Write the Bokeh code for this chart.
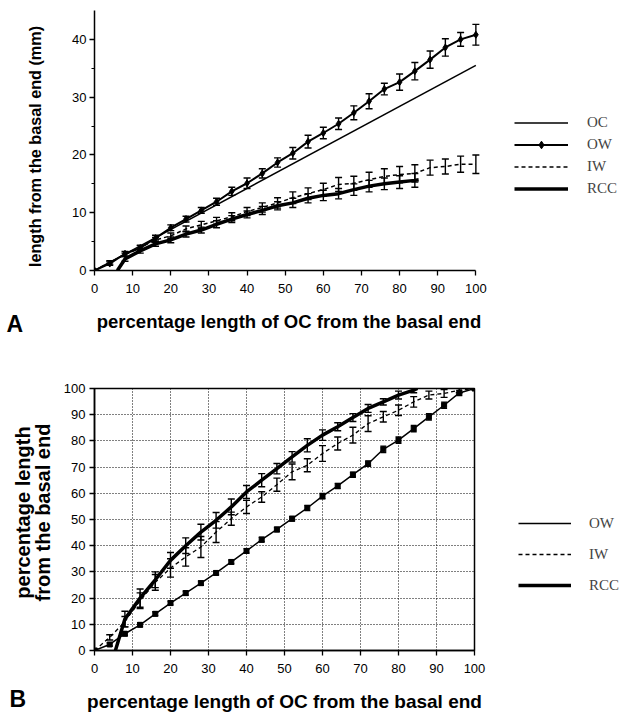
import math
from bokeh.plotting import figure
from bokeh.models import (Range1d, FixedTicker, Whisker, TeeHead, ColumnDataSource,
                          Legend, LegendItem)
from bokeh.layouts import column, row
from bokeh.core.properties import value
from bokeh.embed import file_html
from bokeh.resources import INLINE

# ---------------- data ----------------
pct = [0, 4, 8, 12, 16, 20, 24, 28, 32, 36, 40, 44, 48, 52, 56, 60, 64, 68, 72, 76, 80, 84, 88, 92, 96, 100]

# Panel A: length from the basal end (mm)
oc_x = [0, 100]
oc_a = [0, 35.5]
ow_a = [0, 1.2, 2.9, 3.9, 5.6, 7.4, 8.9, 10.4, 11.9, 13.7, 15.1, 16.8, 18.7, 20.3, 22.3, 23.8, 25.4, 27.3, 29.3, 31.4, 32.6, 34.5, 36.5, 38.6, 40.0, 40.8]
ow_a_err = [0, 0.3, 0.4, 0.4, 0.5, 0.5, 0.5, 0.5, 0.6, 0.7, 0.9, 0.8, 0.8, 1.0, 1.1, 1.0, 1.0, 1.2, 1.3, 1.0, 1.4, 1.5, 1.5, 1.5, 1.2, 1.8]
iw_a = [0, 1.4, 2.7, 4.0, 5.3, 6.0, 7.2, 7.9, 8.6, 9.3, 10.2, 10.9, 11.7, 12.6, 13.3, 14.0, 14.9, 15.1, 15.7, 16.3, 16.6, 16.8, 17.8, 18.0, 18.4, 18.4]
iw_a_err = [0, 0.3, 0.3, 0.4, 0.4, 0.5, 0.5, 0.6, 0.6, 0.7, 0.7, 0.8, 0.9, 1.0, 1.0, 1.1, 1.2, 1.2, 1.3, 1.3, 1.4, 1.5, 1.3, 1.3, 1.4, 1.6]
rcc_a_x = [6, 8, 12, 16, 20, 24, 28, 32, 36, 40, 44, 48, 52, 56, 60, 64, 68, 72, 76, 80, 84, 85]
rcc_a = [0, 2.0, 3.4, 4.6, 5.3, 6.3, 7.0, 8.0, 8.9, 9.7, 10.4, 11.2, 11.7, 12.5, 13.0, 13.3, 14.0, 14.6, 15.0, 15.3, 15.6, 15.7]
rcc_a_err = [0, 0.4, 0.4, 0.4, 0.5, 0.5, 0.5, 0.6, 0.6, 0.6, 0.7, 0.7, 0.8, 0.8, 0.9, 0.9, 1.0, 1.0, 1.0, 1.1, 1.2, 0]

# Panel B: percentage length from the basal end
ow_b = [0, 2.3, 6.4, 9.8, 14.0, 18.1, 21.9, 25.7, 29.6, 33.8, 38.0, 42.3, 46.2, 50.3, 54.4, 58.9, 62.8, 67.1, 71.3, 76.8, 80.3, 84.7, 89.2, 93.6, 98.3, 100]
ow_b_err = [0, 0.6, 0.8, 0.8, 0.8, 0.8, 0.8, 0.8, 0.8, 0.8, 0.9, 0.9, 0.9, 0.9, 1.0, 1.0, 1.0, 1.0, 1.0, 1.2, 1.2, 1.2, 1.2, 1.2, 1.0, 0]
iw_b = [0, 5.0, 11.0, 19.0, 26.0, 31.5, 35.7, 39.5, 45.2, 50.3, 54.8, 58.6, 63.3, 68.2, 70.7, 75.2, 79.0, 82.2, 86.6, 89.2, 91.7, 94.9, 97.5, 98.1, 99.4, 100]
iw_b_err = [0, 1.0, 2.0, 3.0, 3.0, 3.5, 3.5, 4.0, 4.0, 2.5, 2.5, 2.0, 2.5, 3.0, 2.5, 3.0, 2.5, 3.0, 3.0, 2.0, 2.0, 2.0, 1.5, 1.5, 1.0, 0]
rcc_b_x = [5.5, 8, 12, 16, 20, 24, 28, 32, 36, 40, 44, 48, 52, 56, 60, 64, 68, 72, 76, 80, 84, 85]
rcc_b = [0, 12.0, 20.0, 27.0, 34.4, 40.0, 45.2, 49.7, 54.8, 60.5, 65.0, 69.4, 73.9, 78.3, 82.2, 85.4, 88.9, 92.4, 94.9, 97.5, 99.4, 100]
rcc_b_err = [0, 3.0, 3.5, 3.0, 3.0, 3.0, 3.0, 3.0, 3.0, 2.5, 2.5, 2.0, 2.0, 2.5, 2.0, 1.5, 1.5, 1.5, 1.2, 1.5, 1.0, 0]

x_ticks = [0, 10, 20, 30, 40, 50, 60, 70, 80, 90, 100]
a_y_ticks = [0, 10, 20, 30, 40]
a_y_minor = [5, 15, 25, 35]
b_y_ticks = [0, 10, 20, 30, 40, 50, 60, 70, 80, 90, 100]
x_title = "percentage length of OC from the basal end"
a_y_title = "length from the basal end (mm)"
b_y_title = ["percentage length", "from the basal end"]
panel_tags = ["A", "B"]

SANS = "Liberation Sans"
SERIF = "Liberation Serif"


def add_err(p, xs, ys, es, lw=1.4, size=7):
    pts = [(x, y, e) for x, y, e in zip(xs, ys, es) if e > 0]
    src = ColumnDataSource(dict(x=[a for a, _, _ in pts],
                                lo=[b - c for _, b, c in pts],
                                hi=[b + c for _, b, c in pts]))
    w = Whisker(base="x", upper="hi", lower="lo", source=src,
                line_width=lw, line_color="black",
                upper_head=TeeHead(size=size, line_width=lw, line_color="black"),
                lower_head=TeeHead(size=size, line_width=lw, line_color="black"))
    p.add_layout(w)


def style_axes(p):
    for ax in (p.xaxis[0], p.yaxis[0]):
        ax.axis_line_width = 1.5
        ax.axis_line_color = "black"
        ax.major_tick_line_color = "black"
        ax.major_tick_line_width = 1.3
        ax.minor_tick_line_color = "black"
        ax.major_tick_in = 0
        ax.major_tick_out = 5
        ax.minor_tick_in = 0
        ax.minor_tick_out = 3
        ax.major_label_text_font = SANS
        ax.major_label_text_font_size = "13px"
        ax.major_label_text_color = "black"
        ax.axis_label_text_font = SANS
        ax.axis_label_text_font_style = "bold"
        ax.axis_label_text_color = "black"
    p.xaxis.major_label_standoff = 8
    p.yaxis.major_label_standoff = 4


# ---------------- left strip with the panel tags and y titles ----------------
strip = figure(width=60, height=714, x_range=Range1d(0, 60), y_range=Range1d(0, 714),
               output_backend="svg", toolbar_location=None, min_border=0,
               x_axis_location=None, y_axis_location=None)
strip.xgrid.visible = False
strip.ygrid.visible = False
strip.outline_line_color = None
strip.text(x=[34.5], y=[568], text=[a_y_title], angle=math.pi / 2,
           text_align="center", text_baseline="middle", text_color="black",
           text_font=value(SANS), text_font_style="bold", text_font_size="16.2px")
strip.text(x=[22, 42], y=[202, 202], text=b_y_title, angle=math.pi / 2,
           text_align="center", text_baseline="middle", text_color="black",
           text_font=value(SANS), text_font_style="bold", text_font_size="20px")
strip.text(x=[6, 9], y=[391, 16], text=panel_tags, text_align="left",
           text_baseline="middle", text_color="black",
           text_font=value(SANS), text_font_style="bold", text_font_size="23px")

# ---------------- Panel A ----------------
pa = figure(frame_width=389, frame_height=260, x_range=Range1d(0, 102), y_range=Range1d(0, 45),
            output_backend="svg", toolbar_location=None,
            min_border_left=29, min_border_right=138, min_border_top=10, min_border_bottom=70)
pa.xgrid.visible = False
pa.ygrid.visible = False
pa.outline_line_color = None
style_axes(pa)
pa.yaxis.major_label_standoff = 3
pa.xaxis.ticker = FixedTicker(ticks=x_ticks, minor_ticks=[])
pa.xaxis.bounds = (0, 100)
pa.yaxis.ticker = FixedTicker(ticks=a_y_ticks, minor_ticks=a_y_minor)
pa.yaxis.bounds = (0, 45)
pa.xaxis.axis_label = x_title
pa.xaxis.axis_label_text_font_size = "18.5px"
pa.xaxis.axis_label_standoff = 15

r_oc = pa.line(oc_x, oc_a, line_color="black", line_width=1.5)
r_ow = pa.line(pct, ow_a, line_color="black", line_width=2)
r_ows = pa.scatter(pct, ow_a, marker="diamond", size=7, color="black")
add_err(pa, pct, ow_a, ow_a_err)
r_iw = pa.line(pct, iw_a, line_color="black", line_width=1.5, line_dash="4 3")
add_err(pa, pct, iw_a, iw_a_err)
r_rcc = pa.line(rcc_a_x, rcc_a, line_color="black", line_width=3.5)
add_err(pa, rcc_a_x, rcc_a, rcc_a_err)

leg_a = Legend(items=[LegendItem(label="OC", renderers=[r_oc]),
                      LegendItem(label="OW", renderers=[r_ow, r_ows]),
                      LegendItem(label="IW", renderers=[r_iw]),
                      LegendItem(label="RCC", renderers=[r_rcc])],
               location=(31, 72), glyph_width=54, glyph_height=19, label_height=19,
               spacing=3, label_standoff=19, padding=10, margin=0,
               border_line_color=None, background_fill_alpha=0,
               label_text_font=SERIF, label_text_font_size="15px")
pa.add_layout(leg_a, "right")

# ---------------- Panel B ----------------
pb = figure(frame_width=380, frame_height=262, x_range=Range1d(0, 100), y_range=Range1d(0, 100),
            output_backend="svg", toolbar_location=None,
            min_border_left=34, min_border_right=142, min_border_top=48, min_border_bottom=64)
style_axes(pb)
pb.xaxis.ticker = FixedTicker(ticks=x_ticks, minor_ticks=[])
pb.yaxis.ticker = FixedTicker(ticks=b_y_ticks, minor_ticks=[])
pb.xgrid.grid_line_color = "black"
pb.ygrid.grid_line_color = "black"
pb.xgrid.grid_line_dash = "1 2"
pb.ygrid.grid_line_dash = "1 2"
pb.xgrid.grid_line_width = 1
pb.ygrid.grid_line_width = 1
pb.outline_line_color = "black"
pb.outline_line_width = 1.5
pb.xaxis.axis_label = x_title
pb.xaxis.axis_label_text_font_size = "19px"
pb.xaxis.axis_label_standoff = 15

r_owb = pb.line(pct, ow_b, line_color="black", line_width=1.5)
pb.scatter(pct, ow_b, marker="square", size=5, color="black")
add_err(pb, pct, ow_b, ow_b_err, size=6)
r_owb_leg = pb.scatter([], [], marker="diamond", size=7, color="black")
r_iwb = pb.line(pct, iw_b, line_color="black", line_width=1.3, line_dash="4 3")
add_err(pb, pct, iw_b, iw_b_err)
r_rccb = pb.line(rcc_b_x, rcc_b, line_color="black", line_width=3.5)
add_err(pb, rcc_b_x, rcc_b, rcc_b_err)

leg_b = Legend(items=[LegendItem(label="OW", renderers=[r_owb, r_owb_leg]),
                      LegendItem(label="IW", renderers=[r_iwb]),
                      LegendItem(label="RCC", renderers=[r_rccb])],
               location=(44, 55), glyph_width=53, glyph_height=20, label_height=20,
               spacing=11, label_standoff=18, padding=10, margin=0,
               border_line_color=None, background_fill_alpha=0,
               label_text_font=SERIF, label_text_font_size="15px")
pb.add_layout(leg_b, "right")

layout = row(strip, column(pa, pb, spacing=0), spacing=0)
open("out.html", "w").write(file_html(layout, INLINE))
